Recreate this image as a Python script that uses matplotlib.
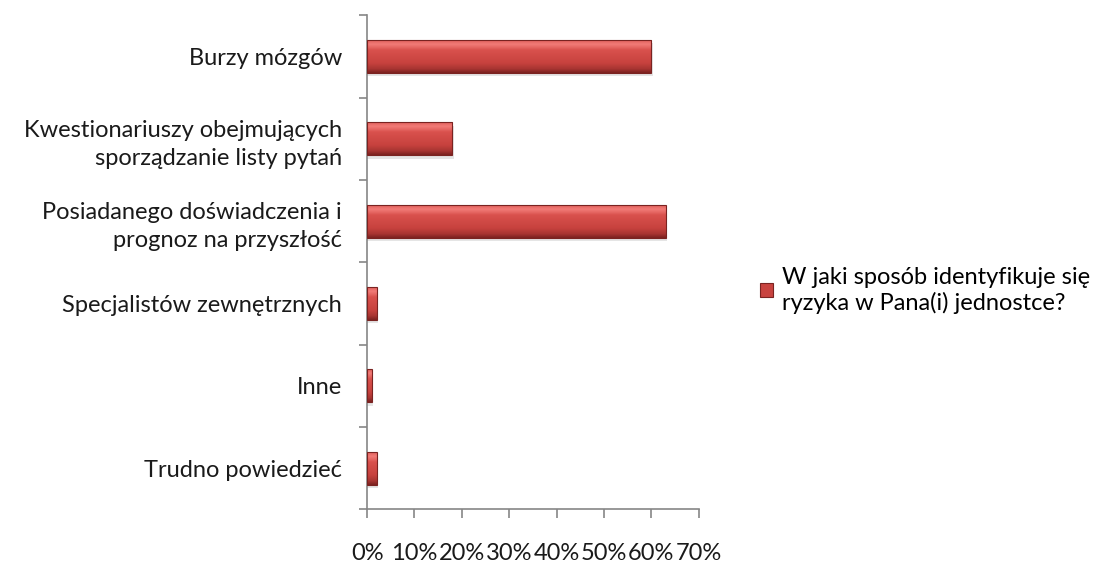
import numpy as np
import matplotlib.pyplot as plt
from matplotlib.patches import Patch
from matplotlib.colors import LinearSegmentedColormap
from matplotlib.ticker import FixedLocator, PercentFormatter

plt.rcParams['font.family'] = ['Lato', 'DejaVu Sans']

categories = [
    "Burzy mózgów",
    "Kwestionariuszy obejmujących\nsporządzanie listy pytań",
    "Posiadanego doświadczenia i\nprognoz na przyszłość",
    "Specjalistów zewnętrznych",
    "Inne",
    "Trudno powiedzieć",
]
values = [60, 18, 63, 2, 1, 2]
series_name = "W jaki sposób identyfikuje się\nryzyka w Pana(i) jednostce?"
xticks = [0, 10, 20, 30, 40, 50, 60, 70]

FS = 17

fig = plt.figure(figsize=(11.09, 5.63), dpi=100)
ax = fig.add_axes([0.331, 0.0955, 0.299, 0.877])

y = np.arange(len(categories))
bars = ax.barh(y, values, height=0.4, color="#c8433f", edgecolor="none", zorder=2)

# bevelled red fill: bright rim at top, deep red at the bottom
grad_cmap = LinearSegmentedColormap.from_list(
    "bevel", [(0.0, "#e0605c"), (0.12, "#f27c78"), (0.3, "#d9514d"),
              (0.7, "#c7423e"), (0.88, "#a83532"), (1.0, "#7c2220")])
grad = np.linspace(0, 1, 64).reshape(-1, 1)
for b in bars:
    x0, y0, w, h = b.get_x(), b.get_y(), b.get_width(), b.get_height()
    # soft shadow under the bar
    ax.add_patch(plt.Rectangle((x0, y0 + h * 0.1), w + 0.3, h, color="#000000",
                               alpha=0.10, zorder=1, lw=0))
    im = ax.imshow(grad, cmap=grad_cmap, aspect="auto", extent=(x0, x0 + w, y0 + h, y0),
                   origin="upper", zorder=3, interpolation="bilinear")
    im.set_clip_path(b)
    ax.add_patch(plt.Rectangle((x0, y0), w, h, fill=False, edgecolor="#7a2321",
                               lw=0.8, zorder=4))

ax.set_ylim(len(categories) - 0.5, -0.5)
ax.set_xlim(0, 70)

ax.set_yticks(y)
ax.set_yticklabels(categories, fontsize=FS, color="#1a1a1a", linespacing=1.4)
ax.yaxis.set_minor_locator(FixedLocator(np.arange(-0.5, len(categories), 1.0)))
ax.tick_params(axis="y", which="major", length=0, pad=18)
ax.tick_params(axis="y", which="minor", length=6, width=1.2, color="#868686")

ax.set_xticks(xticks)
ax.xaxis.set_major_formatter(PercentFormatter(decimals=0))
ax.tick_params(axis="x", length=6.5, width=1.2, color="#868686", pad=18,
               labelsize=FS, labelcolor="#1a1a1a")

for s in ["top", "right"]:
    ax.spines[s].set_visible(False)
for s in ["left", "bottom"]:
    ax.spines[s].set_color("#868686")
    ax.spines[s].set_linewidth(1.2)

handle = Patch(facecolor="#c8433f", edgecolor="#7a2321", linewidth=0.8)
fig.legend([handle], [series_name], loc="upper left", bbox_to_anchor=(0.675, 0.547),
           frameon=False, fontsize=FS, handlelength=0.55, handleheight=0.55,
           handletextpad=0.35, borderpad=0, labelspacing=0.3)

fig.savefig("out.png", dpi=100, facecolor="white")
